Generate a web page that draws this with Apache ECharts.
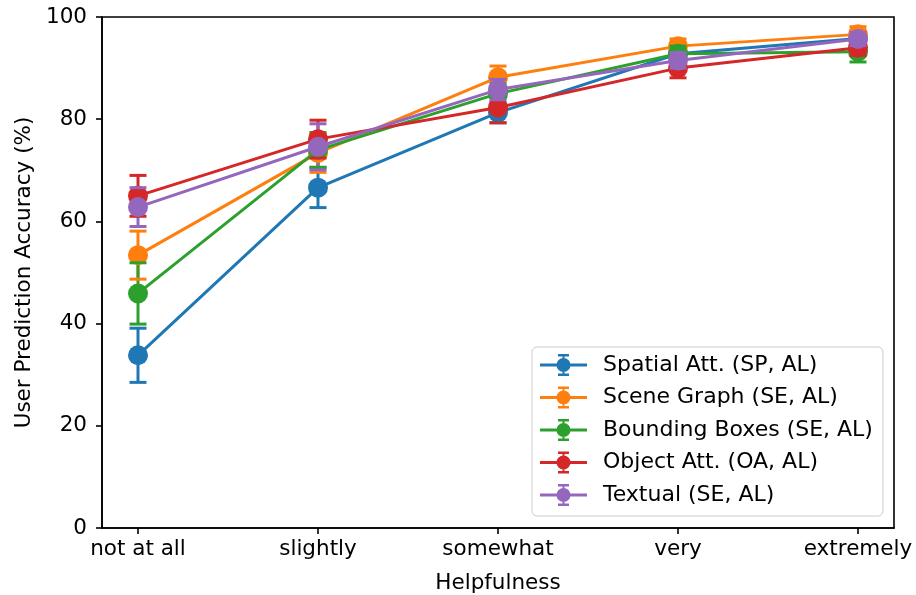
<!DOCTYPE html>
<html>
<head>
<meta charset="utf-8">
<script src="https://cdn.jsdelivr.net/npm/echarts@6/dist/echarts.min.js"></script>
<style>
  html, body { margin: 0; padding: 0; background: #fff; }
  #chart { width: 916px; height: 595px; }
</style>
</head>
<body>
<div id="chart"></div>
<script>
// Helpfulness levels along the x axis
const categories = ['not at all', 'slightly', 'somewhat', 'very', 'extremely'];
const tickValues = [0, 20, 40, 60, 80, 100];

// Mean user prediction accuracy (%) per method
const seriesNames = [
  'Spatial Att. (SP, AL)',
  'Scene Graph (SE, AL)',
  'Bounding Boxes (SE, AL)',
  'Object Att. (OA, AL)',
  'Textual (SE, AL)'
];
const spatialAtt    = [33.8, 66.6, 81.3, 92.8, 95.8];
const sceneGraph    = [53.4, 73.4, 88.2, 94.3, 96.6];
const boundingBoxes = [45.9, 74.0, 85.0, 92.8, 93.2];
const objectAtt     = [65.0, 76.1, 82.3, 90.0, 94.0];
const textual       = [62.8, 74.6, 85.8, 91.5, 95.7];

// Error (half-width of the bars) per method
const spatialErr    = [5.3, 3.9, 2.0, 1.5, 1.2];
const sceneErr      = [4.7, 3.8, 2.2, 1.4, 1.5];
const boundingErr   = [6.0, 3.4, 2.0, 1.5, 2.0];
const objectErr     = [4.0, 3.7, 3.0, 1.9, 1.5];
const textualErr    = [3.8, 4.5, 2.0, 1.5, 1.3];

const means = [spatialAtt, sceneGraph, boundingBoxes, objectAtt, textual];
const errs = [spatialErr, sceneErr, boundingErr, objectErr, textualErr];
const colors = ['#1f77b4', '#ff7f0e', '#2ca02c', '#d62728', '#9467bd'];

const FONT = 'DejaVu Sans';
const FS = 21.5;
const LW = 3;
const CAP = 8.5;

// legend glyph: line + marker + error bar with caps
const legendIcon = 'path://' +
  'M0 9.5H47V12.5H0Z' +
  'M22.5 0H24.5V22H22.5Z' +
  'M18 0H29V2.6H18Z' +
  'M18 19.4H29V22H18Z' +
  'M16.5 11A7 7 0 1 1 30.5 11A7 7 0 1 1 16.5 11Z';

const series = [];

// vertical error bar stems for every method (drawn beneath everything)
means.forEach((m, i) => {
  series.push({
    type: 'custom',
    name: 'stem-' + i,
    z: 1,
    silent: true,
    data: m.map((v, k) => [k, v - errs[i][k], v + errs[i][k]]),
    renderItem: (params, api) => {
      const top = api.coord([api.value(0), api.value(2)]);
      const bot = api.coord([api.value(0), api.value(1)]);
      return {
        type: 'line',
        shape: { x1: top[0], y1: top[1], x2: bot[0], y2: bot[1] },
        style: { stroke: colors[i], lineWidth: LW }
      };
    }
  });
});

// data lines with markers, then the caps of that method
means.forEach((m, i) => {
  series.push({
    type: 'line',
    name: seriesNames[i],
    z: 10 + 2 * i,
    data: m.map((v, k) => [k, v]),
    symbol: 'circle',
    symbolSize: 20,
    showAllSymbol: true,
    lineStyle: { color: colors[i], width: LW },
    itemStyle: { color: colors[i] },
    emphasis: { disabled: true },
    animation: false
  });
  series.push({
    type: 'custom',
    name: 'cap-' + i,
    z: 11 + 2 * i,
    silent: true,
    data: m.map((v, k) => [k, v - errs[i][k], v + errs[i][k]]),
    renderItem: (params, api) => {
      const top = api.coord([api.value(0), api.value(2)]);
      const bot = api.coord([api.value(0), api.value(1)]);
      const st = { stroke: colors[i], lineWidth: LW };
      return {
        type: 'group',
        children: [
          { type: 'line', shape: { x1: top[0] - CAP, y1: top[1], x2: top[0] + CAP, y2: top[1] }, style: st },
          { type: 'line', shape: { x1: bot[0] - CAP, y1: bot[1], x2: bot[0] + CAP, y2: bot[1] }, style: st }
        ]
      };
    }
  });
});

const chart = echarts.init(document.getElementById('chart'), null, { renderer: 'canvas' });
chart.setOption({
  animation: false,
  backgroundColor: '#ffffff',
  textStyle: { fontFamily: FONT },
  grid: {
    left: 102, right: 22, top: 17, bottom: 67,
    outerBoundsMode: 'none',
    containLabel: false,
    show: true, borderColor: '#000', borderWidth: 1.6, backgroundColor: 'transparent'
  },
  xAxis: {
    type: 'value',
    min: -0.2, max: 4.2,
    name: 'Helpfulness',
    nameLocation: 'middle',
    nameGap: 44,
    nameTextStyle: { fontFamily: FONT, fontSize: FS, color: '#000' },
    axisLine: { show: true, onZero: false, lineStyle: { color: '#000', width: 1.6 } },
    axisTick: { show: true, length: 6, lineStyle: { color: '#000', width: 1.6 }, customValues: [0, 1, 2, 3, 4] },
    axisLabel: {
      customValues: [0, 1, 2, 3, 4],
      formatter: v => categories[Math.round(v)],
      fontFamily: FONT, fontSize: FS, color: '#000', margin: 10
    },
    splitLine: { show: false }
  },
  yAxis: {
    type: 'value',
    min: 0, max: 100, interval: 20,
    name: 'User Prediction Accuracy (%)',
    nameLocation: 'middle',
    nameGap: 66,
    nameTextStyle: { fontFamily: FONT, fontSize: FS, color: '#000' },
    axisLine: { show: true, onZero: false, lineStyle: { color: '#000', width: 1.6 } },
    axisTick: { show: true, length: 6, lineStyle: { color: '#000', width: 1.6 } },
    axisLabel: {
      formatter: v => (tickValues.indexOf(v) >= 0 ? String(v) : ''),
      fontFamily: FONT, fontSize: FS, color: '#000', margin: 15
    },
    splitLine: { show: false }
  },
  legend: {
    data: seriesNames.map(n => ({ name: n, icon: legendIcon })),
    orient: 'vertical',
    left: 532, top: 347,
    padding: [7, 10, 10, 8],
    itemWidth: 47, itemHeight: 22, itemGap: 10.5,
    backgroundColor: 'rgba(255,255,255,0.8)',
    borderColor: '#cccccc', borderWidth: 1, borderRadius: 5,
    selectedMode: false,
    textStyle: { fontFamily: FONT, fontSize: 22, color: '#000', padding: [0, 0, 0, 11] }
  },
  series: series
});
</script>
</body>
</html>
